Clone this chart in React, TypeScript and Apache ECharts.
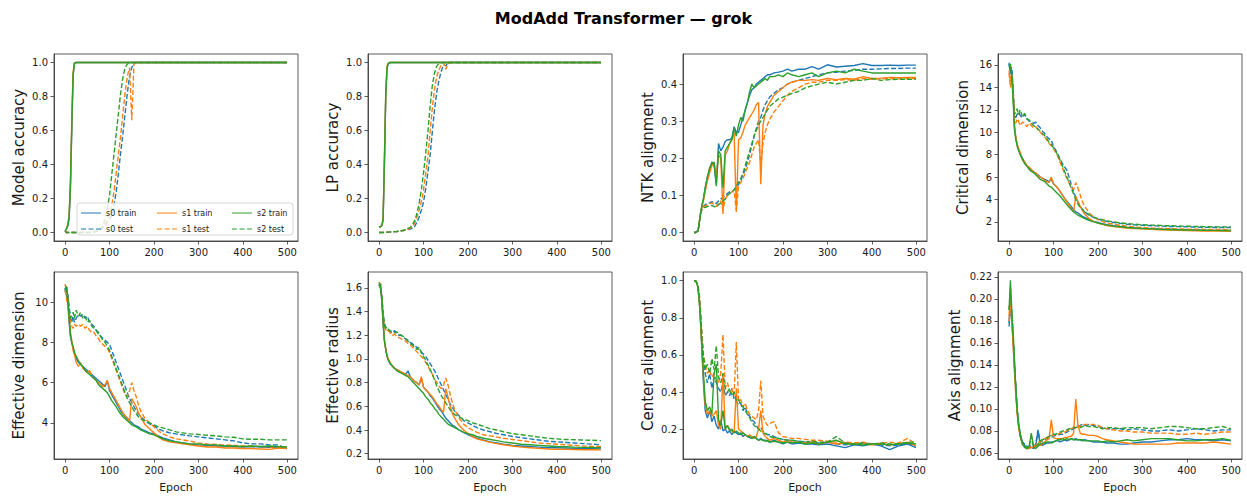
import React, { useEffect, useRef } from "react";
import * as echarts from "echarts";

// ---------- data ----------
const EPOCHS = [
  0, 3, 6, 9, 12, 15, 18, 21, 25, 30,
  35, 40, 45, 50, 55, 60, 65, 70, 75, 80,
  85, 90, 95, 100, 105, 110, 115, 120, 125, 130,
  135, 140, 145, 150, 155, 160, 165, 170, 180, 190,
  200, 210, 220, 235, 250, 265, 280, 300, 320, 340,
  360, 380, 400, 420, 440, 460, 480, 499,
];

const SEEDS = ["s0", "s1", "s2"];
const SPLITS = ["train", "test"];
const COLORS = ["#1f77b4", "#ff7f0e", "#2ca02c"];

const EPOCH_TICKS = [0, 100, 200, 300, 400, 500];
const ACC_TICKS = [0, 0.2, 0.4, 0.6, 0.8, 1.0];
const NTK_TICKS = [0, 0.1, 0.2, 0.3, 0.4];
const CD_TICKS = [2, 4, 6, 8, 10, 12, 14, 16];
const ED_TICKS = [4, 6, 8, 10];
const ER_TICKS = [0.2, 0.4, 0.6, 0.8, 1.0, 1.2, 1.4, 1.6];
const CA_TICKS = [0.2, 0.4, 0.6, 0.8, 1.0];
const AA_TICKS = [0.06, 0.08, 0.1, 0.12, 0.14, 0.16, 0.18, 0.2, 0.22];

// Model accuracy
const ACC_S0_TRAIN = [
  0.01, 0.02, 0.04, 0.08, 0.25, 0.6, 0.92, 0.995, 1, 1,
  1, 1, 1, 1, 1, 1, 1, 1, 1, 1,
  1, 1, 1, 1, 1, 1, 1, 1, 1, 1,
  1, 1, 1, 1, 1, 1, 1, 1, 1, 1,
  1, 1, 1, 1, 1, 1, 1, 1, 1, 1,
  1, 1, 1, 1, 1, 1, 1, 1,
];
const ACC_S1_TRAIN = [
  0.01, 0.02, 0.05, 0.1, 0.3, 0.65, 0.94, 0.997, 1, 1,
  1, 1, 1, 1, 1, 1, 1, 1, 1, 1,
  1, 1, 1, 1, 1, 1, 1, 1, 1, 1,
  1, 1, 1, 1, 1, 1, 1, 1, 1, 1,
  1, 1, 1, 1, 1, 1, 1, 1, 1, 1,
  1, 1, 1, 1, 1, 1, 1, 1,
];
const ACC_S2_TRAIN = [
  0.01, 0.02, 0.04, 0.09, 0.28, 0.62, 0.93, 0.996, 1, 1,
  1, 1, 1, 1, 1, 1, 1, 1, 1, 1,
  1, 1, 1, 1, 1, 1, 1, 1, 1, 1,
  1, 1, 1, 1, 1, 1, 1, 1, 1, 1,
  1, 1, 1, 1, 1, 1, 1, 1, 1, 1,
  1, 1, 1, 1, 1, 1, 1, 1,
];
const ACC_S0_TEST = [
  0.01, 0, 0, 0, 0, 0, 0, 0, 0, 0,
  0, 0, 0, 0, 0, 0.001, 0.003, 0.005, 0.01, 0.015,
  0.025, 0.04, 0.06, 0.08, 0.1, 0.16, 0.24, 0.35, 0.47, 0.58,
  0.7, 0.82, 0.92, 0.97, 0.995, 1, 1, 1, 1, 1,
  1, 1, 1, 1, 1, 1, 1, 1, 1, 1,
  1, 1, 1, 1, 1, 1, 1, 1,
];
const ACC_S1_TEST = [
  0.01, 0, 0, 0, 0, 0, 0, 0, 0, 0,
  0, 0, 0, 0, 0, 0.001, 0.004, 0.008, 0.012, 0.02,
  0.03, 0.05, 0.08, 0.11, 0.16, 0.24, 0.35, 0.46, 0.57, 0.7,
  0.82, 0.92, 0.97, 0.66, 0.995, 1, 1, 1, 1, 1,
  1, 1, 1, 1, 1, 1, 1, 1, 1, 1,
  1, 1, 1, 1, 1, 1, 1, 1,
];
const ACC_S2_TEST = [
  0.01, 0, 0, 0, 0, 0, 0, 0, 0, 0,
  0, 0, 0, 0, 0.001, 0.003, 0.006, 0.01, 0.015, 0.02,
  0.04, 0.08, 0.14, 0.22, 0.34, 0.46, 0.58, 0.7, 0.82, 0.91,
  0.97, 0.99, 1, 1, 1, 1, 1, 1, 1, 1,
  1, 1, 1, 1, 1, 1, 1, 1, 1, 1,
  1, 1, 1, 1, 1, 1, 1, 1,
];

// LP accuracy
const LP_S0_TRAIN = [
  0.03, 0.035, 0.04, 0.07, 0.4, 0.8, 0.97, 0.995, 1, 1,
  1, 1, 1, 1, 1, 1, 1, 1, 1, 1,
  1, 1, 1, 1, 1, 1, 1, 1, 1, 1,
  1, 1, 1, 1, 1, 1, 1, 1, 1, 1,
  1, 1, 1, 1, 1, 1, 1, 1, 1, 1,
  1, 1, 1, 1, 1, 1, 1, 1,
];
const LP_S1_TRAIN = [
  0.03, 0.033, 0.042, 0.08, 0.45, 0.82, 0.98, 0.996, 1, 1,
  1, 1, 1, 1, 1, 1, 1, 1, 1, 1,
  1, 1, 1, 1, 1, 1, 1, 1, 1, 1,
  1, 1, 1, 1, 1, 1, 1, 1, 1, 1,
  1, 1, 1, 1, 1, 1, 1, 1, 1, 1,
  1, 1, 1, 1, 1, 1, 1, 1,
];
const LP_S2_TRAIN = [
  0.03, 0.034, 0.04, 0.075, 0.42, 0.81, 0.975, 0.995, 1, 1,
  1, 1, 1, 1, 1, 1, 1, 1, 1, 1,
  1, 1, 1, 1, 1, 1, 1, 1, 1, 1,
  1, 1, 1, 1, 1, 1, 1, 1, 1, 1,
  1, 1, 1, 1, 1, 1, 1, 1, 1, 1,
  1, 1, 1, 1, 1, 1, 1, 1,
];
const LP_S0_TEST = [
  0, 0, 0, 0, 0.001, 0.001, 0.002, 0.002, 0.003, 0.004,
  0.005, 0.006, 0.008, 0.01, 0.012, 0.015, 0.017, 0.02, 0.025, 0.035,
  0.06, 0.09, 0.13, 0.18, 0.26, 0.36, 0.46, 0.6, 0.73, 0.83,
  0.9, 0.95, 0.985, 0.98, 1, 1, 1, 1, 1, 1,
  1, 1, 1, 1, 1, 1, 1, 1, 1, 1,
  1, 1, 1, 1, 1, 1, 1, 1,
];
const LP_S1_TEST = [
  0, 0, 0, 0, 0.001, 0.001, 0.002, 0.002, 0.003, 0.004,
  0.005, 0.006, 0.008, 0.01, 0.012, 0.015, 0.018, 0.025, 0.035, 0.055,
  0.09, 0.13, 0.18, 0.25, 0.35, 0.45, 0.6, 0.74, 0.85, 0.92,
  0.96, 0.985, 1, 0.96, 0.99, 1, 1, 1, 1, 1,
  1, 1, 1, 1, 1, 1, 1, 1, 1, 1,
  1, 1, 1, 1, 1, 1, 1, 1,
];
const LP_S2_TEST = [
  0, 0, 0, 0, 0.001, 0.001, 0.002, 0.002, 0.003, 0.004,
  0.005, 0.006, 0.008, 0.01, 0.013, 0.018, 0.024, 0.03, 0.045, 0.07,
  0.11, 0.17, 0.25, 0.35, 0.47, 0.6, 0.75, 0.87, 0.94, 0.98,
  0.995, 1, 1, 1, 1, 1, 1, 1, 1, 1,
  1, 1, 1, 1, 1, 1, 1, 1, 1, 1,
  1, 1, 1, 1, 1, 1, 1, 1,
];

// NTK alignment
const NTK_S0_TRAIN = [
  0, 0, 0.002, 0.005, 0.03, 0.055, 0.075, 0.09, 0.12, 0.15,
  0.17, 0.19, 0.18, 0.13, 0.24, 0.22, 0.23, 0.245, 0.25, 0.25,
  0.255, 0.285, 0.27, 0.27, 0.29, 0.31, 0.33, 0.35, 0.37, 0.385,
  0.39, 0.4, 0.405, 0.41, 0.415, 0.42, 0.425, 0.425, 0.43, 0.432,
  0.435, 0.44, 0.435, 0.44, 0.44, 0.447, 0.44, 0.452, 0.446, 0.448,
  0.45, 0.455, 0.45, 0.45, 0.451, 0.45, 0.451, 0.451,
];
const NTK_S1_TRAIN = [
  0, 0, 0.002, 0.005, 0.03, 0.055, 0.07, 0.085, 0.11, 0.14,
  0.16, 0.18, 0.19, 0.15, 0.21, 0.2, 0.05, 0.21, 0.22, 0.24,
  0.25, 0.27, 0.055, 0.25, 0.255, 0.27, 0.29, 0.3, 0.31, 0.32,
  0.33, 0.345, 0.35, 0.13, 0.29, 0.32, 0.34, 0.35, 0.37, 0.38,
  0.39, 0.4, 0.405, 0.41, 0.41, 0.412, 0.41, 0.415, 0.412, 0.415,
  0.413, 0.42, 0.415, 0.416, 0.418, 0.417, 0.418, 0.418,
];
const NTK_S2_TRAIN = [
  0, 0, 0.002, 0.005, 0.03, 0.055, 0.075, 0.09, 0.12, 0.15,
  0.175, 0.185, 0.19, 0.125, 0.22, 0.21, 0.12, 0.22, 0.23, 0.24,
  0.25, 0.28, 0.26, 0.29, 0.31, 0.3, 0.33, 0.35, 0.38, 0.4,
  0.39, 0.395, 0.4, 0.405, 0.41, 0.415, 0.41, 0.42, 0.42, 0.425,
  0.42, 0.43, 0.425, 0.42, 0.425, 0.43, 0.42, 0.43, 0.435, 0.43,
  0.44, 0.435, 0.43, 0.43, 0.43, 0.43, 0.43, 0.43,
];
const NTK_S0_TEST = [
  0, 0, 0.002, 0.005, 0.03, 0.055, 0.065, 0.07, 0.075, 0.078,
  0.08, 0.083, 0.08, 0.078, 0.085, 0.09, 0.095, 0.1, 0.105, 0.11,
  0.11, 0.115, 0.12, 0.13, 0.14, 0.155, 0.17, 0.19, 0.21, 0.235,
  0.26, 0.28, 0.3, 0.31, 0.33, 0.345, 0.355, 0.365, 0.375, 0.385,
  0.39, 0.4, 0.405, 0.41, 0.415, 0.42, 0.425, 0.43, 0.432, 0.435,
  0.437, 0.44, 0.44, 0.441, 0.442, 0.442, 0.443, 0.443,
];
const NTK_S1_TEST = [
  0, 0, 0.002, 0.005, 0.03, 0.055, 0.063, 0.068, 0.072, 0.075,
  0.078, 0.08, 0.075, 0.07, 0.08, 0.085, 0.06, 0.09, 0.1, 0.105,
  0.11, 0.11, 0.06, 0.125, 0.135, 0.145, 0.16, 0.175, 0.19, 0.21,
  0.23, 0.24, 0.25, 0.18, 0.24, 0.27, 0.29, 0.305, 0.325, 0.34,
  0.355, 0.37, 0.38, 0.39, 0.4, 0.405, 0.405, 0.41, 0.41, 0.412,
  0.41, 0.415, 0.413, 0.414, 0.415, 0.414, 0.415, 0.415,
];
const NTK_S2_TEST = [
  0, 0, 0.002, 0.005, 0.03, 0.055, 0.062, 0.065, 0.068, 0.07,
  0.072, 0.073, 0.07, 0.068, 0.075, 0.08, 0.085, 0.09, 0.1, 0.105,
  0.11, 0.115, 0.125, 0.135, 0.145, 0.16, 0.18, 0.2, 0.22, 0.24,
  0.26, 0.275, 0.29, 0.3, 0.31, 0.32, 0.33, 0.34, 0.35, 0.36,
  0.365, 0.37, 0.375, 0.38, 0.39, 0.395, 0.4, 0.405, 0.4, 0.405,
  0.41, 0.41, 0.415, 0.41, 0.412, 0.413, 0.413, 0.413,
];

// Critical dimension
const CD_S0_TRAIN = [
  16.1, 15.2, 15.5, 13.5, 10.5, 9.5, 8.9, 8.5, 8.1, 7.7,
  7.3, 7.0, 6.8, 6.6, 6.5, 6.3, 6.2, 6.0, 5.9, 5.8,
  5.7, 5.6, 5.8, 5.4, 5.2, 5.0, 4.7, 4.4, 4.1, 3.85,
  3.6, 3.35, 3.1, 2.9, 2.8, 2.65, 2.5, 2.4, 2.2, 2.05,
  1.95, 1.85, 1.75, 1.67, 1.6, 1.53, 1.48, 1.43, 1.4, 1.37,
  1.35, 1.32, 1.3, 1.28, 1.26, 1.25, 1.24, 1.22,
];
const CD_S1_TRAIN = [
  15.5, 14.5, 15.2, 13.8, 10.8, 9.6, 9.0, 8.6, 8.2, 7.5,
  7.4, 7.0, 6.9, 6.7, 6.4, 6.4, 6.1, 6.0, 5.9, 5.7,
  5.6, 5.5, 6.0, 5.4, 5.2, 5.0, 4.7, 4.4, 4.1, 3.8,
  3.5, 3.2, 2.9, 4.3, 3.8, 3.4, 3.0, 2.7, 2.3, 2.05,
  1.9, 1.78, 1.68, 1.58, 1.52, 1.46, 1.42, 1.38, 1.34, 1.31,
  1.28, 1.25, 1.23, 1.2, 1.19, 1.18, 1.18, 1.17,
];
const CD_S2_TRAIN = [
  15.8, 16.0, 15.0, 13.0, 10.3, 9.4, 8.8, 8.4, 8.0, 7.6,
  7.2, 7.0, 6.7, 6.5, 6.4, 6.2, 6.0, 5.8, 5.7, 5.6,
  5.4, 5.2, 5.1, 4.9, 4.7, 4.5, 4.3, 4.05, 3.8, 3.55,
  3.3, 3.1, 2.9, 2.75, 2.6, 2.5, 2.4, 2.3, 2.15, 2.0,
  1.9, 1.8, 1.72, 1.63, 1.57, 1.5, 1.46, 1.42, 1.38, 1.35,
  1.33, 1.3, 1.28, 1.27, 1.26, 1.25, 1.24, 1.23,
];
const CD_S0_TEST = [
  16.2, 15.5, 15.8, 14.0, 11.5, 11.2, 11.6, 11.8, 11.5, 11.3,
  11.6, 11.2, 11.0, 10.9, 10.8, 10.9, 10.6, 10.4, 10.1, 9.9,
  9.6, 9.4, 9.3, 8.7, 8.4, 8.0, 7.6, 7.2, 6.9, 6.6,
  6.0, 5.3, 4.7, 4.2, 3.8, 3.4, 3.1, 2.9, 2.6, 2.4,
  2.25, 2.15, 2.05, 1.95, 1.87, 1.8, 1.75, 1.7, 1.66, 1.63,
  1.6, 1.58, 1.56, 1.54, 1.52, 1.51, 1.5, 1.5,
];
const CD_S1_TEST = [
  15.3, 14.0, 15.0, 13.2, 11.2, 10.8, 11.2, 11.0, 10.6, 10.9,
  10.8, 10.5, 10.8, 10.6, 10.4, 10.5, 10.2, 10.0, 9.8, 9.6,
  9.3, 9.0, 8.8, 8.5, 8.2, 7.8, 7.3, 6.8, 6.3, 5.9,
  5.5, 5.1, 4.9, 5.5, 5.0, 4.4, 3.8, 3.4, 2.8, 2.45,
  2.2, 2.05, 1.9, 1.8, 1.7, 1.62, 1.56, 1.5, 1.46, 1.43,
  1.4, 1.38, 1.36, 1.35, 1.34, 1.33, 1.32, 1.31,
];
const CD_S2_TEST = [
  15.9, 16.1, 15.2, 13.5, 11.6, 11.8, 12.1, 11.6, 12.0, 11.4,
  11.7, 11.2, 11.1, 10.8, 10.6, 10.5, 10.3, 10.1, 9.9, 9.7,
  9.4, 9.1, 8.9, 8.6, 8.3, 7.9, 7.5, 7.0, 6.5, 6.0,
  5.5, 5.0, 4.5, 4.0, 3.6, 3.3, 3.1, 2.9, 2.65, 2.45,
  2.3, 2.2, 2.1, 2.0, 1.92, 1.85, 1.8, 1.75, 1.72, 1.69,
  1.66, 1.64, 1.62, 1.6, 1.58, 1.57, 1.56, 1.55,
];

// Effective dimension
const ED_S0_TRAIN = [
  10.7, 10.4, 10.0, 9.0, 8.3, 8.0, 7.7, 7.5, 7.2, 7.0,
  6.9, 6.8, 6.7, 6.6, 6.5, 6.4, 6.3, 6.2, 6.1, 6.0,
  5.9, 5.8, 6.1, 5.6, 5.4, 5.2, 5.0, 4.8, 4.6, 4.45,
  4.3, 4.2, 4.1, 4.0, 3.9, 3.85, 3.8, 3.7, 3.6, 3.5,
  3.45, 3.35, 3.25, 3.15, 3.05, 3.0, 2.95, 2.9, 2.88, 2.85,
  2.85, 2.82, 2.8, 2.82, 2.8, 2.78, 2.8, 2.78,
];
const ED_S1_TRAIN = [
  10.9, 10.5, 10.2, 9.2, 8.5, 8.1, 7.6, 7.4, 7.0, 6.8,
  7.0, 6.7, 6.6, 6.5, 6.6, 6.3, 6.2, 6.1, 6.0, 5.9,
  5.8, 5.9, 6.1, 5.7, 5.5, 5.3, 5.1, 4.9, 4.7, 4.5,
  4.35, 4.25, 4.1, 5.2, 5.0, 4.8, 4.5, 4.3, 3.9, 3.7,
  3.5, 3.3, 3.15, 3.05, 3.0, 2.95, 2.9, 2.85, 2.8, 2.8,
  2.75, 2.75, 2.72, 2.72, 2.7, 2.68, 2.75, 2.72,
];
const ED_S2_TRAIN = [
  10.6, 10.8, 10.3, 9.3, 8.4, 8.0, 7.8, 7.5, 7.3, 7.1,
  6.9, 6.8, 6.6, 6.5, 6.4, 6.3, 6.2, 6.1, 5.9, 5.8,
  5.7, 5.6, 5.5, 5.3, 5.1, 4.95, 4.8, 4.6, 4.45, 4.3,
  4.2, 4.1, 4.0, 3.9, 3.85, 3.8, 3.72, 3.65, 3.55, 3.45,
  3.4, 3.3, 3.2, 3.1, 3.05, 3.0, 2.95, 2.95, 2.9, 2.9,
  2.85, 2.85, 2.82, 2.85, 2.82, 2.85, 2.82, 2.8,
];
const ED_S0_TEST = [
  10.5, 10.8, 10.4, 9.8, 9.2, 9.0, 9.3, 9.0, 9.2, 9.4,
  9.3, 9.4, 9.2, 9.3, 9.0, 8.9, 8.8, 8.6, 8.5, 8.3,
  8.2, 8.1, 8.0, 7.9, 7.6, 7.3, 7.0, 6.7, 6.4, 6.1,
  5.8, 5.5, 5.2, 5.0, 4.8, 4.6, 4.45, 4.3, 4.1, 3.95,
  3.85, 3.7, 3.6, 3.5, 3.45, 3.4, 3.35, 3.3, 3.25, 3.2,
  3.15, 3.1, 3.0, 2.95, 2.95, 2.9, 2.9, 2.7,
];
const ED_S1_TEST = [
  10.6, 10.2, 9.8, 9.5, 9.0, 8.8, 8.7, 8.9, 8.8, 8.9,
  8.8, 8.9, 8.7, 8.8, 8.6, 8.5, 8.5, 8.3, 8.2, 8.0,
  7.9, 7.8, 7.7, 7.5, 7.2, 6.9, 6.6, 6.3, 6.0, 5.7,
  5.4, 5.3, 5.6, 6.0, 5.6, 5.3, 4.9, 4.6, 4.2, 4.0,
  3.8, 3.6, 3.45, 3.3, 3.2, 3.15, 3.1, 3.0, 2.95, 2.92,
  2.9, 2.88, 2.85, 2.85, 2.82, 2.8, 2.8, 2.8,
];
const ED_S2_TEST = [
  10.7, 10.6, 10.1, 9.6, 9.2, 9.3, 9.5, 9.2, 9.6, 9.3,
  9.5, 9.2, 9.3, 9.0, 9.1, 8.8, 8.7, 8.6, 8.4, 8.3,
  8.1, 8.0, 7.8, 7.6, 7.3, 7.0, 6.7, 6.4, 6.1, 5.8,
  5.5, 5.2, 5.0, 4.8, 4.6, 4.45, 4.3, 4.2, 4.1, 4.0,
  3.9, 3.8, 3.75, 3.65, 3.55, 3.5, 3.45, 3.42, 3.38, 3.35,
  3.3, 3.28, 3.2, 3.18, 3.18, 3.15, 3.15, 3.15,
];

// Effective radius
const ER_S0_TRAIN = [
  1.63, 1.6, 1.5, 1.3, 1.15, 1.08, 1.02, 0.99, 0.96, 0.94,
  0.92, 0.91, 0.9, 0.89, 0.88, 0.87, 0.9, 0.85, 0.83, 0.81,
  0.8, 0.78, 0.84, 0.76, 0.74, 0.72, 0.69, 0.67, 0.64, 0.61,
  0.58, 0.56, 0.53, 0.5, 0.48, 0.46, 0.44, 0.43, 0.4, 0.38,
  0.36, 0.345, 0.33, 0.315, 0.3, 0.29, 0.28, 0.27, 0.265, 0.26,
  0.255, 0.25, 0.25, 0.248, 0.245, 0.245, 0.243, 0.24,
];
const ER_S1_TRAIN = [
  1.62, 1.64, 1.52, 1.32, 1.16, 1.09, 1.03, 1.0, 0.97, 0.94,
  0.92, 0.91, 0.9, 0.89, 0.88, 0.87, 0.86, 0.85, 0.83, 0.81,
  0.8, 0.78, 0.85, 0.76, 0.74, 0.72, 0.7, 0.68, 0.65, 0.62,
  0.6, 0.57, 0.55, 0.75, 0.68, 0.6, 0.54, 0.5, 0.44, 0.4,
  0.37, 0.345, 0.325, 0.31, 0.295, 0.285, 0.275, 0.265, 0.255, 0.25,
  0.245, 0.24, 0.238, 0.236, 0.235, 0.233, 0.233, 0.232,
];
const ER_S2_TRAIN = [
  1.62, 1.63, 1.52, 1.32, 1.16, 1.08, 1.02, 0.99, 0.96, 0.94,
  0.92, 0.9, 0.89, 0.88, 0.87, 0.86, 0.85, 0.83, 0.81, 0.79,
  0.77, 0.75, 0.73, 0.71, 0.68, 0.66, 0.63, 0.61, 0.58, 0.56,
  0.53, 0.51, 0.49, 0.47, 0.45, 0.44, 0.43, 0.42, 0.4, 0.38,
  0.37, 0.36, 0.345, 0.33, 0.32, 0.31, 0.3, 0.29, 0.28, 0.275,
  0.27, 0.265, 0.26, 0.258, 0.255, 0.253, 0.252, 0.25,
];
const ER_S0_TEST = [
  1.62, 1.64, 1.55, 1.4, 1.3, 1.27, 1.25, 1.24, 1.23, 1.22,
  1.24, 1.21, 1.2, 1.2, 1.18, 1.17, 1.16, 1.14, 1.13, 1.11,
  1.1, 1.08, 1.06, 1.04, 1.02, 0.99, 0.96, 0.93, 0.9, 0.86,
  0.82, 0.78, 0.74, 0.7, 0.66, 0.62, 0.59, 0.56, 0.52, 0.48,
  0.46, 0.44, 0.42, 0.4, 0.385, 0.37, 0.36, 0.345, 0.335, 0.325,
  0.315, 0.305, 0.3, 0.295, 0.29, 0.285, 0.28, 0.275,
];
const ER_S1_TEST = [
  1.6, 1.62, 1.5, 1.38, 1.28, 1.25, 1.23, 1.24, 1.22, 1.2,
  1.21, 1.19, 1.18, 1.17, 1.16, 1.15, 1.13, 1.12, 1.1, 1.08,
  1.06, 1.04, 1.02, 1.0, 0.97, 0.94, 0.9, 0.87, 0.83, 0.8,
  0.77, 0.75, 0.78, 0.84, 0.78, 0.7, 0.63, 0.57, 0.5, 0.45,
  0.42, 0.4, 0.38, 0.36, 0.35, 0.34, 0.33, 0.32, 0.31, 0.3,
  0.29, 0.285, 0.28, 0.275, 0.27, 0.265, 0.262, 0.26,
];
const ER_S2_TEST = [
  1.65, 1.6, 1.52, 1.38, 1.28, 1.26, 1.27, 1.25, 1.24, 1.23,
  1.22, 1.23, 1.21, 1.2, 1.19, 1.17, 1.15, 1.13, 1.12, 1.1,
  1.08, 1.1, 1.05, 1.02, 0.99, 0.95, 0.91, 0.87, 0.82, 0.77,
  0.73, 0.69, 0.66, 0.63, 0.6, 0.57, 0.55, 0.53, 0.51, 0.49,
  0.48, 0.46, 0.45, 0.43, 0.41, 0.4, 0.385, 0.37, 0.36, 0.35,
  0.34, 0.33, 0.325, 0.32, 0.318, 0.315, 0.313, 0.31,
];

// Center alignment
const CA_S0_TRAIN = [
  1.0, 1.0, 0.99, 0.96, 0.88, 0.76, 0.6, 0.45, 0.3, 0.26,
  0.3, 0.24, 0.27, 0.22, 0.2, 0.25, 0.19, 0.2, 0.18, 0.19,
  0.17, 0.19, 0.18, 0.17, 0.18, 0.16, 0.17, 0.16, 0.155, 0.15,
  0.16, 0.15, 0.14, 0.15, 0.14, 0.14, 0.135, 0.13, 0.14, 0.13,
  0.12, 0.13, 0.12, 0.125, 0.12, 0.12, 0.115, 0.12, 0.11, 0.1,
  0.115, 0.11, 0.12, 0.11, 0.09, 0.11, 0.12, 0.1,
];
const CA_S1_TRAIN = [
  1.0, 1.0, 0.99, 0.96, 0.88, 0.75, 0.62, 0.48, 0.33, 0.28,
  0.3, 0.27, 0.28, 0.3, 0.22, 0.2, 0.5, 0.2, 0.22, 0.2,
  0.19, 0.18, 0.42, 0.2, 0.19, 0.18, 0.17, 0.16, 0.17, 0.16,
  0.15, 0.16, 0.2, 0.3, 0.18, 0.16, 0.15, 0.14, 0.15, 0.14,
  0.13, 0.14, 0.13, 0.13, 0.125, 0.13, 0.12, 0.13, 0.12, 0.125,
  0.12, 0.12, 0.115, 0.12, 0.115, 0.12, 0.13, 0.11,
];
const CA_S2_TRAIN = [
  1.0, 1.0, 0.99, 0.96, 0.88, 0.77, 0.63, 0.5, 0.35, 0.3,
  0.32, 0.28, 0.5, 0.55, 0.25, 0.22, 0.3, 0.2, 0.22, 0.19,
  0.2, 0.18, 0.19, 0.18, 0.17, 0.18, 0.17, 0.16, 0.16, 0.15,
  0.16, 0.15, 0.14, 0.145, 0.14, 0.135, 0.14, 0.13, 0.135, 0.13,
  0.125, 0.13, 0.125, 0.13, 0.12, 0.125, 0.12, 0.13, 0.14, 0.12,
  0.12, 0.115, 0.12, 0.12, 0.115, 0.12, 0.125, 0.12,
];
const CA_S0_TEST = [
  1.0, 1.0, 0.99, 0.96, 0.9, 0.8, 0.68, 0.58, 0.5, 0.45,
  0.5, 0.42, 0.48, 0.45, 0.42, 0.4, 0.45, 0.38, 0.4, 0.38,
  0.42, 0.36, 0.35, 0.33, 0.34, 0.3, 0.32, 0.28, 0.27, 0.25,
  0.24, 0.22, 0.2, 0.21, 0.19, 0.18, 0.17, 0.17, 0.16, 0.15,
  0.145, 0.14, 0.14, 0.135, 0.13, 0.13, 0.125, 0.13, 0.12, 0.115,
  0.12, 0.125, 0.12, 0.115, 0.11, 0.115, 0.12, 0.11,
];
const CA_S1_TEST = [
  1.0, 1.0, 0.99, 0.97, 0.92, 0.82, 0.7, 0.6, 0.55, 0.5,
  0.52, 0.48, 0.5, 0.46, 0.45, 0.5, 0.71, 0.42, 0.45, 0.4,
  0.42, 0.38, 0.67, 0.35, 0.36, 0.32, 0.34, 0.3, 0.28, 0.27,
  0.26, 0.25, 0.3, 0.46, 0.27, 0.24, 0.22, 0.23, 0.24, 0.18,
  0.16, 0.155, 0.15, 0.15, 0.145, 0.14, 0.14, 0.135, 0.13, 0.13,
  0.125, 0.13, 0.12, 0.125, 0.13, 0.125, 0.15, 0.12,
];
const CA_S2_TEST = [
  1.0, 1.0, 0.99, 0.97, 0.91, 0.8, 0.68, 0.6, 0.52, 0.55,
  0.5, 0.58, 0.52, 0.65, 0.48, 0.45, 0.5, 0.42, 0.4, 0.42,
  0.38, 0.4, 0.35, 0.36, 0.33, 0.32, 0.3, 0.28, 0.26, 0.24,
  0.22, 0.21, 0.2, 0.19, 0.18, 0.175, 0.17, 0.16, 0.155, 0.15,
  0.145, 0.14, 0.14, 0.135, 0.13, 0.135, 0.13, 0.13, 0.16, 0.125,
  0.12, 0.125, 0.12, 0.125, 0.12, 0.12, 0.13, 0.13,
];

// Axis alignment
const AA_S0_TRAIN = [
  0.178, 0.2, 0.185, 0.165, 0.14, 0.12, 0.1, 0.088, 0.077, 0.07,
  0.067, 0.065, 0.066, 0.065, 0.064, 0.066, 0.08, 0.068, 0.067, 0.068,
  0.069, 0.069, 0.07, 0.07, 0.071, 0.071, 0.07, 0.071, 0.072, 0.071,
  0.072, 0.073, 0.072, 0.073, 0.072, 0.072, 0.071, 0.072, 0.071, 0.07,
  0.07, 0.07, 0.069, 0.069, 0.068, 0.068, 0.069, 0.07, 0.07, 0.071,
  0.072, 0.072, 0.073, 0.072, 0.072, 0.071, 0.072, 0.071,
];
const AA_S1_TRAIN = [
  0.185, 0.205, 0.18, 0.16, 0.135, 0.115, 0.097, 0.085, 0.075, 0.068,
  0.065, 0.064, 0.064, 0.065, 0.065, 0.066, 0.068, 0.067, 0.068, 0.07,
  0.072, 0.073, 0.09, 0.074, 0.073, 0.073, 0.073, 0.073, 0.074, 0.074,
  0.075, 0.075, 0.078, 0.109, 0.085, 0.078, 0.077, 0.077, 0.076, 0.076,
  0.075, 0.073, 0.072, 0.071, 0.07, 0.069, 0.068, 0.068, 0.068, 0.068,
  0.068, 0.069, 0.069, 0.069, 0.069, 0.07, 0.069, 0.068,
];
const AA_S2_TRAIN = [
  0.19, 0.217, 0.19, 0.17, 0.145, 0.12, 0.1, 0.087, 0.076, 0.068,
  0.065, 0.064, 0.065, 0.078, 0.065, 0.064, 0.066, 0.068, 0.069, 0.069,
  0.07, 0.07, 0.069, 0.07, 0.071, 0.072, 0.072, 0.073, 0.072, 0.073,
  0.072, 0.073, 0.072, 0.072, 0.072, 0.072, 0.072, 0.071, 0.071, 0.071,
  0.071, 0.07, 0.071, 0.07, 0.071, 0.072, 0.071, 0.072, 0.073, 0.073,
  0.073, 0.072, 0.071, 0.071, 0.072, 0.072, 0.073, 0.0715,
];
const AA_S0_TEST = [
  0.175, 0.195, 0.18, 0.162, 0.14, 0.12, 0.1, 0.088, 0.077, 0.07,
  0.068, 0.066, 0.066, 0.067, 0.066, 0.068, 0.081, 0.07, 0.071, 0.072,
  0.073, 0.073, 0.074, 0.075, 0.076, 0.076, 0.077, 0.077, 0.078, 0.079,
  0.08, 0.081, 0.082, 0.083, 0.084, 0.085, 0.086, 0.085, 0.086, 0.085,
  0.084, 0.083, 0.082, 0.082, 0.082, 0.081, 0.082, 0.081, 0.08, 0.08,
  0.081, 0.08, 0.081, 0.082, 0.081, 0.08, 0.081, 0.081,
];
const AA_S1_TEST = [
  0.18, 0.2, 0.18, 0.16, 0.135, 0.115, 0.097, 0.085, 0.075, 0.068,
  0.066, 0.065, 0.065, 0.066, 0.066, 0.067, 0.07, 0.07, 0.072, 0.073,
  0.074, 0.075, 0.076, 0.076, 0.077, 0.077, 0.078, 0.079, 0.079, 0.08,
  0.081, 0.082, 0.083, 0.085, 0.085, 0.084, 0.085, 0.086, 0.086, 0.086,
  0.085, 0.083, 0.082, 0.081, 0.08, 0.08, 0.079, 0.079, 0.078, 0.078,
  0.078, 0.077, 0.077, 0.078, 0.077, 0.078, 0.079, 0.079,
];
const AA_S2_TEST = [
  0.19, 0.21, 0.188, 0.168, 0.143, 0.12, 0.1, 0.087, 0.076, 0.069,
  0.066, 0.065, 0.066, 0.075, 0.066, 0.066, 0.068, 0.071, 0.072, 0.073,
  0.074, 0.075, 0.076, 0.077, 0.077, 0.078, 0.079, 0.08, 0.08, 0.081,
  0.082, 0.082, 0.083, 0.083, 0.084, 0.083, 0.084, 0.085, 0.084, 0.084,
  0.083, 0.082, 0.083, 0.083, 0.082, 0.083, 0.083, 0.083, 0.082, 0.083,
  0.084, 0.084, 0.083, 0.082, 0.082, 0.083, 0.084, 0.082,
];

// series order per panel: s0 train, s0 test, s1 train, s1 test, s2 train, s2 test
const PANELS = [
  { label: "Model accuracy", series: [ACC_S0_TRAIN, ACC_S0_TEST, ACC_S1_TRAIN, ACC_S1_TEST, ACC_S2_TRAIN, ACC_S2_TEST], min: -0.05, max: 1.05, ticks: ACC_TICKS, dec: 1 },
  { label: "LP accuracy", series: [LP_S0_TRAIN, LP_S0_TEST, LP_S1_TRAIN, LP_S1_TEST, LP_S2_TRAIN, LP_S2_TEST], min: -0.05, max: 1.05, ticks: ACC_TICKS, dec: 1 },
  { label: "NTK alignment", series: [NTK_S0_TRAIN, NTK_S0_TEST, NTK_S1_TRAIN, NTK_S1_TEST, NTK_S2_TRAIN, NTK_S2_TEST], min: -0.0229, max: 0.481, ticks: NTK_TICKS, dec: 1 },
  { label: "Critical dimension", series: [CD_S0_TRAIN, CD_S0_TEST, CD_S1_TRAIN, CD_S1_TEST, CD_S2_TRAIN, CD_S2_TEST], min: 0.3, max: 16.98, ticks: CD_TICKS, dec: 0 },
  { label: "Effective dimension", series: [ED_S0_TRAIN, ED_S0_TEST, ED_S1_TRAIN, ED_S1_TEST, ED_S2_TRAIN, ED_S2_TEST], min: 2.2, max: 11.5, ticks: ED_TICKS, dec: 0 },
  { label: "Effective radius", series: [ER_S0_TRAIN, ER_S0_TEST, ER_S1_TRAIN, ER_S1_TEST, ER_S2_TRAIN, ER_S2_TEST], min: 0.155, max: 1.735, ticks: ER_TICKS, dec: 1 },
  { label: "Center alignment", series: [CA_S0_TRAIN, CA_S0_TEST, CA_S1_TRAIN, CA_S1_TEST, CA_S2_TRAIN, CA_S2_TEST], min: 0.039, max: 1.047, ticks: CA_TICKS, dec: 1 },
  { label: "Axis alignment", series: [AA_S0_TRAIN, AA_S0_TEST, AA_S1_TRAIN, AA_S1_TEST, AA_S2_TRAIN, AA_S2_TEST], min: 0.0545, max: 0.2245, ticks: AA_TICKS, dec: 2 },
];

// ---------- layout / style ----------
const FONT = "DejaVu Sans";
const TXT = "#1a1a1a";
const FRAME = "#333333";
const COL_LEFT = [54, 368, 683, 998];
const ROW_TOP = [54, 272];
const PW = 244;
const PH = 187;
const NAME_GAP = [28, 28, 28, 28, 28, 28, 28, 36];

const SOLID_ICON = "path://M0,0h20v1h-20z";
const DASH_ICON = "path://M0,0h5v1h-5zM7.5,0h5v1h-5zM15,0h5v1h-5z";

function buildOption() {
  const grid: any[] = [];
  const xAxis: any[] = [];
  const yAxis: any[] = [];
  const series: any[] = [];

  PANELS.forEach((p, i) => {
    const row = Math.floor(i / 4);
    const col = i % 4;
    grid.push({
      left: COL_LEFT[col],
      top: ROW_TOP[row],
      width: PW,
      height: PH,
      show: true,
      borderColor: FRAME,
      borderWidth: 0.8,
      backgroundColor: "transparent",
    });
    xAxis.push({
      type: "value",
      gridIndex: i,
      min: -24.95,
      max: 523.95,
      name: row === 1 ? "Epoch" : "",
      nameLocation: "middle",
      nameGap: 23,
      nameTextStyle: { fontSize: 11, color: TXT, fontFamily: FONT },
      axisLine: { show: true, onZero: false, lineStyle: { color: FRAME, width: 0.8 } },
      axisTick: { show: true, length: 3.5, customValues: EPOCH_TICKS, lineStyle: { color: FRAME, width: 0.8 } },
      axisLabel: {
        customValues: EPOCH_TICKS,
        fontSize: 10,
        color: TXT,
        fontFamily: FONT,
        margin: 6,
        formatter: (v: number) => String(Math.round(v)),
      },
      splitLine: { show: false },
    });
    yAxis.push({
      type: "value",
      gridIndex: i,
      min: p.min,
      max: p.max,
      name: p.label,
      nameLocation: "middle",
      nameGap: NAME_GAP[i],
      nameTextStyle: { fontSize: 15, color: TXT, fontFamily: FONT },
      axisLine: { show: true, onZero: false, lineStyle: { color: FRAME, width: 0.8 } },
      axisTick: { show: true, length: 3.5, customValues: p.ticks, lineStyle: { color: FRAME, width: 0.8 } },
      axisLabel: {
        customValues: p.ticks,
        fontSize: 10,
        color: TXT,
        fontFamily: FONT,
        margin: 6,
        formatter: (v: number) => Number(v).toFixed(p.dec),
      },
      splitLine: { show: false },
    });

    p.series.forEach((vals, k) => {
      const seed = Math.floor(k / 2);
      const split = SPLITS[k % 2];
      series.push({
        type: "line",
        name: `${SEEDS[seed]} ${split}`,
        xAxisIndex: i,
        yAxisIndex: i,
        data: EPOCHS.map((e, j) => [e, vals[j]]),
        showSymbol: false,
        symbol: "none",
        silent: true,
        clip: true,
        z: 2,
        emphasis: { disabled: true },
        itemStyle: { color: COLORS[seed] },
        lineStyle: {
          color: COLORS[seed],
          width: 1.4,
          type: split === "test" ? [5, 2.2] : "solid",
        },
      });
    });
  });

  const legendLeft = [81, 157, 232];
  const legend = SEEDS.map((s, i) => ({
    orient: "vertical",
    left: legendLeft[i],
    top: 209,
    padding: 0,
    itemGap: 8,
    itemWidth: 20,
    itemHeight: 1.6,
    selectedMode: false,
    z: 6,
    textStyle: { fontSize: 8, color: TXT, fontFamily: FONT },
    data: [
      { name: `${s} train`, icon: SOLID_ICON },
      { name: `${s} test`, icon: DASH_ICON },
    ],
  }));

  return {
    animation: false,
    backgroundColor: "#ffffff",
    textStyle: { fontFamily: FONT },
    title: {
      text: "ModAdd Transformer — grok",
      left: "center",
      top: 5,
      textStyle: { fontSize: 16, fontWeight: "bold", color: "#000", fontFamily: FONT },
    },
    grid,
    xAxis,
    yAxis,
    legend,
    graphic: [
      {
        type: "rect",
        z: 5,
        silent: true,
        shape: { x: 77, y: 203, width: 216, height: 32, r: 3 },
        style: { fill: "rgba(255,255,255,0.8)", stroke: "#cccccc", lineWidth: 0.8 },
      },
    ],
    series,
  };
}

export default function App() {
  const ref = useRef<HTMLDivElement>(null);
  useEffect(() => {
    if (!ref.current) return;
    const chart = echarts.init(ref.current, undefined, { renderer: "svg" });
    chart.setOption(buildOption() as any);
    return () => chart.dispose();
  }, []);
  return (
    <div
      ref={ref}
      style={{ position: "fixed", left: 0, top: 0, width: 1247, height: 498, background: "#fff" }}
    />
  );
}
